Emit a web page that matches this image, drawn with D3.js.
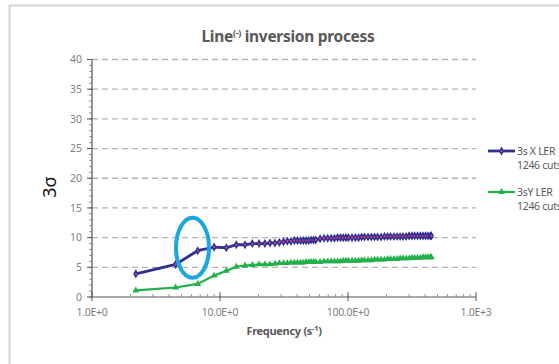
<!DOCTYPE html>
<html>
<head>
<meta charset="utf-8">
<script src="https://cdn.jsdelivr.net/npm/d3@7"></script>
<style>
  body { margin: 0; background: #fff; }
  svg { display: block; font-family: "Noto Sans", "Open Sans", sans-serif; }
</style>
</head>
<body>
<div id="chart"></div>
<script>
// frequency (s^-1)
const freq = [2.2, 4.5, 6.7, 9.0, 11.2, 13.4, 15.7, 17.9, 20.2, 22.4,
  24.6, 26.9, 29.1, 31.4, 33.6, 35.8, 38.1, 40.3, 42.6, 44.8,
  47, 49.3, 51.5, 53.8, 56, 60.5, 65, 69.4, 73.9, 78.4,
  82.9, 87.4, 91.8, 96.3, 100.8, 107.5, 114.2, 121, 127.7, 134.4,
  143.4, 152.3, 161.3, 170.2, 181.4, 192.6, 203.8, 215, 228.5, 242,
  255.4, 268.8, 284.5, 300.2, 315.8, 331.5, 349.4, 367.4, 385.3, 403.2,
  421.1, 439, 448];

const xLER = [3.9, 5.5, 7.8, 8.4, 8.3, 8.8, 8.8, 9.0, 9.0, 9.0,
  9.1, 9.1, 9.2, 9.3, 9.4, 9.4, 9.5, 9.5, 9.5, 9.5,
  9.5, 9.5, 9.6, 9.6, 9.6, 9.8, 9.9, 9.9, 9.9, 9.9,
  10.0, 10.0, 10.0, 10.0, 10.0, 10.0, 10.0, 10.0, 10.1, 10.1,
  10.1, 10.1, 10.1, 10.1, 10.1, 10.2, 10.2, 10.2, 10.2, 10.2,
  10.2, 10.2, 10.2, 10.3, 10.3, 10.3, 10.3, 10.3, 10.3, 10.3,
  10.3, 10.3, 10.3];

const yLER = [1.1, 1.6, 2.2, 3.6, 4.4, 5.1, 5.3, 5.4, 5.5, 5.5,
  5.5, 5.6, 5.7, 5.7, 5.7, 5.8, 5.8, 5.8, 5.8, 5.8,
  5.9, 5.9, 5.9, 5.9, 5.9, 5.9, 6.0, 6.0, 6.0, 6.0,
  6.0, 6.0, 6.1, 6.1, 6.1, 6.1, 6.1, 6.1, 6.2, 6.2,
  6.2, 6.2, 6.3, 6.3, 6.3, 6.3, 6.4, 6.4, 6.4, 6.4,
  6.5, 6.5, 6.5, 6.5, 6.6, 6.6, 6.6, 6.6, 6.7, 6.7,
  6.7, 6.7, 6.7];

const xTickVals = [1, 10, 100, 1000];
const xTickLabels = ["1.0E+0", "10.0E+0", "100.0E+0", "1.0E+3"];
const yTickVals = [0, 5, 10, 15, 20, 25, 30, 35, 40];
const seriesNames = ["3s X LER", "3sY LER"];
const seriesSub = ["1246 cuts", "1246 cuts"];
const seriesColors = ["#2e3192", "#22b04a"];

const width = 559, height = 364;
const plotL = 92, plotR = 476, plotT = 59.5, plotB = 297;

const svg = d3.select("#chart").append("svg")
  .attr("width", width)
  .attr("height", height);

// outer frame
svg.append("rect")
  .attr("x", 9.5).attr("y", 5.5)
  .attr("width", width).attr("height", height)
  .attr("fill", "#fff")
  .attr("stroke", "#d4d4d4")
  .attr("stroke-width", 2);

const x = d3.scaleLog().domain([1, 1000]).range([plotL, plotR]);
const y = d3.scaleLinear().domain([0, 40]).range([plotB, plotT]);

// dashed gridlines
svg.append("g")
  .selectAll("line")
  .data(yTickVals.filter(d => d > 0))
  .join("line")
  .attr("x1", plotL).attr("x2", plotR)
  .attr("y1", d => y(d)).attr("y2", d => y(d))
  .attr("stroke", "#b3b3b3")
  .attr("stroke-width", 1.3)
  .attr("stroke-dasharray", "6,4");

// y axis: minor ticks every unit, major every 5
const yAxis = svg.append("g");
yAxis.selectAll("line.minor")
  .data(d3.range(0, 41))
  .join("line")
  .attr("class", "minor")
  .attr("x1", plotL - 3).attr("x2", plotL)
  .attr("y1", d => y(d)).attr("y2", d => y(d))
  .attr("stroke", "#777").attr("stroke-width", 0.8);
yAxis.selectAll("line.major")
  .data(yTickVals)
  .join("line")
  .attr("class", "major")
  .attr("x1", plotL - 5).attr("x2", plotL)
  .attr("y1", d => y(d)).attr("y2", d => y(d))
  .attr("stroke", "#555").attr("stroke-width", 1);
yAxis.append("line")
  .attr("x1", plotL).attr("x2", plotL)
  .attr("y1", plotT).attr("y2", plotB)
  .attr("stroke", "#555").attr("stroke-width", 1.2);
yAxis.selectAll("text")
  .data(yTickVals)
  .join("text")
  .attr("x", plotL - 10)
  .attr("y", d => y(d))
  .attr("dy", "0.35em")
  .attr("text-anchor", "end")
  .attr("font-size", 10.5)
  .attr("fill", "#7f7f7f")
  .text(d => d);

// x axis
const minorX = [];
xTickVals.slice(0, -1).forEach(d => { for (let k = 2; k < 10; k++) minorX.push(d * k); });
const xAxis = svg.append("g");
xAxis.append("line")
  .attr("x1", plotL).attr("x2", plotR)
  .attr("y1", plotB).attr("y2", plotB)
  .attr("stroke", "#555").attr("stroke-width", 1.2);
xAxis.selectAll("line.minor")
  .data(minorX)
  .join("line")
  .attr("class", "minor")
  .attr("x1", d => x(d)).attr("x2", d => x(d))
  .attr("y1", plotB - 3).attr("y2", plotB)
  .attr("stroke", "#777").attr("stroke-width", 0.8);
xAxis.selectAll("line.major")
  .data(xTickVals)
  .join("line")
  .attr("class", "major")
  .attr("x1", d => x(d)).attr("x2", d => x(d))
  .attr("y1", plotB - 5).attr("y2", plotB + 4)
  .attr("stroke", "#555").attr("stroke-width", 1);
xAxis.selectAll("text")
  .data(xTickVals)
  .join("text")
  .attr("x", d => x(d))
  .attr("y", plotB + 19)
  .attr("text-anchor", "middle")
  .attr("font-size", 10.5)
  .attr("fill", "#7f7f7f")
  .attr("letter-spacing", "-0.3")
  .text((d, i) => xTickLabels[i]);

// series lines
const line = d3.line().x(d => x(d[0])).y(d => y(d[1]));
const blue = freq.map((f, i) => [f, xLER[i]]);
const green = freq.map((f, i) => [f, yLER[i]]);

svg.append("path").datum(green)
  .attr("fill", "none").attr("stroke", seriesColors[1]).attr("stroke-width", 2.2)
  .attr("d", line);
svg.append("g").selectAll("path")
  .data(green).join("path")
  .attr("transform", d => `translate(${x(d[0])},${y(d[1])})`)
  .attr("d", d3.symbol(d3.symbolTriangle, 20))
  .attr("fill", seriesColors[1]);

svg.append("path").datum(blue)
  .attr("fill", "none").attr("stroke", seriesColors[0]).attr("stroke-width", 2.8)
  .attr("d", line);
const blueMarks = svg.append("g").selectAll("g")
  .data(blue).join("g")
  .attr("transform", d => `translate(${x(d[0])},${y(d[1])})`);
blueMarks.append("path")
  .attr("d", d3.symbol(d3.symbolDiamond, 24))
  .attr("fill", seriesColors[0]);
blueMarks.append("circle")
  .attr("r", 1.1)
  .attr("fill", "#d9407a");

// highlight ellipse
svg.append("ellipse")
  .attr("cx", x(6.1)).attr("cy", y(8.3))
  .attr("rx", 16.5).attr("ry", 30)
  .attr("fill", "none")
  .attr("stroke", "#1ba6df")
  .attr("stroke-width", 4);

// title
const title = svg.append("text")
  .attr("x", 288).attr("y", 42)
  .attr("text-anchor", "middle")
  .attr("font-size", 15.5)
  .attr("font-weight", "bold")
  .attr("fill", "#595959")
  .attr("letter-spacing", "-0.3");
title.append("tspan").text("Line");
title.append("tspan").attr("font-size", 9).attr("dy", -6).text("(-)");
title.append("tspan").attr("dy", 6).text(" inversion process");

// axis titles
svg.append("text")
  .attr("transform", `translate(56,187) rotate(-90)`)
  .attr("text-anchor", "middle")
  .attr("font-size", 18)
  .attr("fill", "#111")
  .text("3σ");

const xt = svg.append("text")
  .attr("x", 284).attr("y", 335)
  .attr("text-anchor", "middle")
  .attr("font-size", 11)
  .attr("font-weight", "bold")
  .attr("fill", "#595959")
  .attr("letter-spacing", "-0.3");
xt.append("tspan").text("Frequency (s");
xt.append("tspan").attr("font-size", 7.5).attr("dy", -4).text("-1");
xt.append("tspan").attr("dy", 4).text(")");

// legend
const legend = svg.append("g")
  .selectAll("g")
  .data(seriesNames)
  .join("g")
  .attr("transform", (d, i) => `translate(488,${151 + i * 41})`);
legend.append("line")
  .attr("x1", 0).attr("x2", 27)
  .attr("stroke", (d, i) => seriesColors[i])
  .attr("stroke-width", (d, i) => i === 0 ? 2.8 : 2.2);
legend.append("path")
  .attr("transform", "translate(13.5,0)")
  .attr("d", (d, i) => d3.symbol(i === 0 ? d3.symbolDiamond : d3.symbolTriangle, i === 0 ? 24 : 20)())
  .attr("fill", (d, i) => seriesColors[i]);
legend.filter((d, i) => i === 0).append("circle")
  .attr("cx", 13.5).attr("r", 1.1)
  .attr("fill", "#d9407a");
legend.append("text")
  .attr("x", 29).attr("y", 0).attr("dy", "0.35em")
  .attr("font-size", 10.5)
  .attr("fill", "#595959")
  .attr("letter-spacing", "-0.3")
  .text(d => d);
legend.append("text")
  .attr("x", 29).attr("y", 14).attr("dy", "0.35em")
  .attr("font-size", 10.5)
  .attr("fill", "#595959")
  .attr("letter-spacing", "-0.3")
  .text((d, i) => seriesSub[i]);
</script>
</body>
</html>
